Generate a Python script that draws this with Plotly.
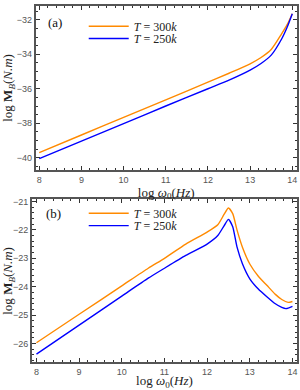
import plotly.graph_objects as go

# Panel (a)
xa_orange = [8, 9, 10, 11, 12, 12.5, 13, 13.25, 13.5, 13.75, 13.875, 14]
ya_orange = [-39.70, -38.68, -37.66, -36.64, -35.62, -35.10, -34.55, -34.2, -33.72, -32.8, -32.3, -31.65]
xa_blue = [8, 9, 10, 11, 12, 12.5, 13, 13.25, 13.5, 13.75, 13.875, 14]
ya_blue = [-40.05, -39.03, -38.02, -37.0, -36.0, -35.5, -34.92, -34.55, -34.05, -33.1, -32.45, -31.65]

# Panel (b)
xb_orange = [8, 9, 10, 10.62, 11, 11.5, 12, 12.25, 12.4, 12.5, 12.6, 12.7, 12.83, 13.0, 13.2, 13.4, 13.6, 13.75, 13.9, 14.0]
yb_orange = [-25.97, -24.97, -23.97, -23.35, -23.0, -22.5, -22.08, -21.82, -21.45, -21.23, -21.43, -22.0, -22.62, -23.2, -23.63, -23.95, -24.27, -24.45, -24.55, -24.52]
xb_blue = [8, 9, 10, 10.62, 11, 11.5, 12, 12.25, 12.4, 12.5, 12.6, 12.7, 12.83, 13.0, 13.2, 13.4, 13.6, 13.75, 13.85, 14.0]
yb_blue = [-26.37, -25.35, -24.33, -23.7, -23.35, -22.9, -22.5, -22.2, -21.85, -21.63, -21.89, -22.6, -23.2, -23.72, -24.08, -24.35, -24.6, -24.73, -24.77, -24.69]

labels = ["<i>T</i> = 300<i>k</i>", "<i>T</i> = 250<i>k</i>"]
ORANGE = "#ff8a00"
BLUE = "#0000ff"
W, H = 300, 390

fig = go.Figure()
fig.add_trace(go.Scatter(x=xa_orange, y=ya_orange, mode="lines", line=dict(color=ORANGE, width=1.4, shape="spline", smoothing=0.8),
                         name=labels[0], xaxis="x", yaxis="y", legend="legend"))
fig.add_trace(go.Scatter(x=xa_blue, y=ya_blue, mode="lines", line=dict(color=BLUE, width=1.4, shape="spline", smoothing=0.8),
                         name=labels[1], xaxis="x", yaxis="y", legend="legend2"))
fig.add_trace(go.Scatter(x=xb_orange, y=yb_orange, mode="lines", line=dict(color=ORANGE, width=1.4, shape="spline", smoothing=0.6),
                         name=labels[0], xaxis="x2", yaxis="y2", legend="legend3"))
fig.add_trace(go.Scatter(x=xb_blue, y=yb_blue, mode="lines", line=dict(color=BLUE, width=1.4, shape="spline", smoothing=0.6),
                         name=labels[1], xaxis="x2", yaxis="y2", legend="legend4"))

tickfont = dict(family="Liberation Sans, Arial, sans-serif", size=9, color="#555555")
titlefont = dict(family="Liberation Serif, Times New Roman, serif", size=13, color="#222222")
frame = dict(showline=True, linecolor="#555555", linewidth=2, mirror="allticks", ticks="inside",
             ticklen=4, tickwidth=1, tickcolor="#333333", showgrid=False, zeroline=False, tickfont=tickfont)

xtitle = "log <i>ω</i><sub>0</sub>(<i>Hz</i>)"
ytitle = "log <b>M</b><sub><i>B</i></sub>(<i>N.m</i>)"

legfont = dict(family="Liberation Serif, serif", size=12, color="#222222")


def leg(ypix, xpix=84):
    return dict(x=xpix / W, y=1 - ypix / H, xanchor="left", yanchor="middle", bgcolor="rgba(0,0,0,0)",
                font=legfont, itemwidth=40, tracegroupgap=0, borderwidth=0)


fig.update_layout(
    width=W, height=H, margin=dict(l=0, r=0, t=0, b=0),
    plot_bgcolor="white", paper_bgcolor="white",
    xaxis=dict(domain=[36 / W, 297.5 / W], range=[7.92, 14.1], anchor="y", dtick=1, tick0=8,
               minor=dict(dtick=0.2, ticks="inside", ticklen=2, tickcolor="#333333"),
               title=dict(text=xtitle, font=titlefont, standoff=4), **frame),
    yaxis=dict(domain=[1 - 169 / H, 1 - 3 / H], range=[-40.7, -31.2], anchor="x", dtick=2, tick0=-40,
               minor=dict(dtick=0.5, ticks="inside", ticklen=2, tickcolor="#333333"),
               title=dict(text=ytitle, font=titlefont, standoff=2), **frame),
    xaxis2=dict(domain=[32.3 / W, 297.7 / W], range=[7.9, 14.1], anchor="y2", dtick=1, tick0=8,
                minor=dict(dtick=0.2, ticks="inside", ticklen=2, tickcolor="#333333"),
                title=dict(text=xtitle, font=titlefont, standoff=4), **frame),
    yaxis2=dict(domain=[1 - 364 / H, 1 - 199 / H], range=[-26.66, -20.93], anchor="x2", dtick=1, tick0=-26,
                minor=dict(dtick=0.2, ticks="inside", ticklen=2, tickcolor="#333333"),
                title=dict(text=ytitle, font=titlefont, standoff=2), **frame),
    legend=leg(23.5),
    legend2=leg(36),
    legend3=leg(213),
    legend4=leg(225.5),
    annotations=[
        dict(text="(a)", x=46 / W, y=1 - 20 / H, xref="paper", yref="paper", showarrow=False,
             xanchor="left", yanchor="middle", font=dict(family="Liberation Serif, serif", size=13, color="#111111")),
        dict(text="(b)", x=44 / W, y=1 - 213 / H, xref="paper", yref="paper", showarrow=False,
             xanchor="left", yanchor="middle", font=dict(family="Liberation Serif, serif", size=13, color="#111111")),
    ],
    showlegend=True,
)

fig.write_html("out.html", config={"displayModeBar": False},
               post_script="document.body.style.margin='0';document.body.style.padding='0';document.body.style.overflow='hidden';")
